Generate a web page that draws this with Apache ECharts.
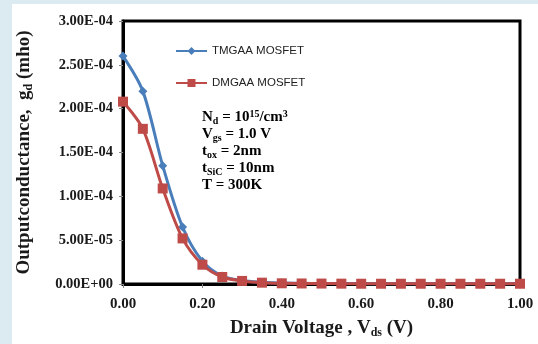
<!DOCTYPE html>
<html><head><meta charset="utf-8">
<script src="https://cdn.jsdelivr.net/npm/echarts@6/dist/echarts.min.js"></script>
<style>html,body{margin:0;padding:0;background:#dcebf2;}#c{position:absolute;left:12px;top:4px;width:526px;height:340px;background:#fff;}</style>
</head><body><div id="c"></div>
<script>
var vds = [0,0.05,0.10,0.15,0.20,0.25,0.30,0.35,0.40,0.45,0.50,0.55,0.60,0.65,0.70,0.75,0.80,0.85,0.90,0.95,1.00];
var tmgaa = [2.60e-4,2.20e-4,1.35e-4,6.5e-5,2.6e-5,9e-6,4e-6,2e-6,1e-6,8e-7,6e-7,5e-7,4e-7,4e-7,3e-7,3e-7,3e-7,3e-7,3e-7,3e-7,3e-7];
var dmgaa = [2.08e-4,1.77e-4,1.09e-4,5.2e-5,2.2e-5,8e-6,3.5e-6,1.5e-6,8e-7,6e-7,5e-7,4e-7,3e-7,3e-7,3e-7,3e-7,3e-7,3e-7,3e-7,3e-7,3e-7];
var yTicks = ['0.00E+00','5.00E-05','1.00E-04','1.50E-04','2.00E-04','2.50E-04','3.00E-04'];
var names = ['TMGAA MOSFET','DMGAA MOSFET'];

var chart = echarts.init(document.getElementById('c'));
function pairs(a){return vds.map(function(x,i){return [x,a[i]];});}
var serif = '"Liberation Serif","Times New Roman",serif';
var sub = {fontFamily:serif,fontWeight:'bold',fontSize:10,verticalAlign:'bottom',lineHeight:13,color:'#1a1a1a'};
var sup = {fontFamily:serif,fontWeight:'bold',fontSize:10,verticalAlign:'top',lineHeight:13,color:'#1a1a1a'};
var base = {fontFamily:serif,fontWeight:'bold',fontSize:15,lineHeight:17,color:'#1a1a1a'};
chart.setOption({
  animation:false,
  grid:{left:111,top:17,right:18,bottom:60,outerBoundsMode:'none',containLabel:false,show:true,borderColor:'#000',borderWidth:3,backgroundColor:'#fff'},
  legend:{orient:'vertical',left:158,top:36,itemGap:20,itemWidth:31,itemHeight:10,padding:5,
    textStyle:{fontFamily:'"Liberation Sans",Arial,sans-serif',fontSize:11.5,fontWeight:'normal',color:'#222'},data:names},
  xAxis:{type:'value',min:0,max:1,interval:0.2,
    axisLine:{lineStyle:{color:'#000',width:3}},
    axisTick:{show:true,length:4,lineStyle:{color:'#888'}},
    splitLine:{show:false},
    axisLabel:{formatter:function(v){return v.toFixed(2);},fontFamily:serif,fontWeight:'bold',fontSize:15,color:'#1a1a1a',margin:13},
    name:'{b|Drain Voltage , V}{s|ds}{b| (V)}',nameLocation:'middle',nameGap:33,
    nameTextStyle:{rich:{b:{fontFamily:serif,fontWeight:'bold',fontSize:19,color:'#1a1a1a',lineHeight:22},s:{fontFamily:serif,fontWeight:'bold',fontSize:12,color:'#1a1a1a',verticalAlign:'bottom',lineHeight:15}}}
  },
  yAxis:{type:'value',min:0,max:3e-4,interval:5e-5,
    axisLine:{show:true,lineStyle:{color:'#000',width:3}},
    axisTick:{show:true,length:4,lineStyle:{color:'#888'}},
    splitLine:{show:false},
    axisLabel:{formatter:function(v){return yTicks[Math.round(v/5e-5)];},fontFamily:serif,fontWeight:'bold',fontSize:14.5,color:'#1a1a1a',margin:10},
    name:'{b|Outputconductance,  g}{s|d}{b| (mho)}',nameLocation:'middle',nameGap:88,nameRotate:90,
    nameTextStyle:{rich:{b:{fontFamily:serif,fontWeight:'bold',fontSize:19,color:'#1a1a1a',lineHeight:22},s:{fontFamily:serif,fontWeight:'bold',fontSize:12,color:'#1a1a1a',verticalAlign:'bottom',lineHeight:15}}}
  },
  graphic:[{type:'text',left:190,top:105,style:{
    text:'{b|N}{s|d}{b| = 10}{p|15}{b|/cm}{p|3}\n{b|V}{s|gs}{b| = 1.0 V}\n{b|t}{s|ox}{b| = 2nm}\n{b|t}{s|SiC}{b| = 10nm}\n{b|T = 300K}',
    rich:{b:base,s:sub,p:sup}}}],
  series:[
    {name:names[0],type:'line',data:pairs(tmgaa),smooth:0.3,symbol:'diamond',symbolSize:9,
      lineStyle:{color:'#4a7ebb',width:3},itemStyle:{color:'#4a7ebb'},z:2},
    {name:names[1],type:'line',data:pairs(dmgaa),smooth:0.3,symbol:'rect',symbolSize:10,
      lineStyle:{color:'#be4b48',width:3},itemStyle:{color:'#be4b48'},z:3}
  ]
});
</script></body></html>
